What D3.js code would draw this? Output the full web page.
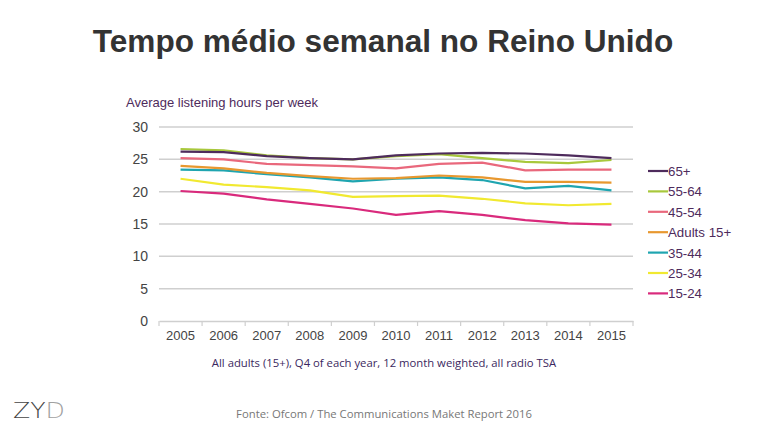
<!DOCTYPE html>
<html><head><meta charset="utf-8">
<script src="https://cdn.jsdelivr.net/npm/d3@7"></script>
<style>body{margin:0;background:#fff}svg{display:block}</style>
</head><body>
<script>
const years = ["2005","2006","2007","2008","2009","2010","2011","2012","2013","2014","2015"];
const seriesNames = ["65+","55-64","45-54","Adults 15+","35-44","25-34","15-24"];
const s65 = [26.2,26.1,25.5,25.2,25.0,25.6,25.9,26.0,25.9,25.6,25.2];
const s55 = [26.6,26.4,25.6,25.2,25.0,25.5,25.8,25.2,24.6,24.4,24.9];
const s45 = [25.2,25.0,24.3,24.1,23.9,23.6,24.3,24.5,23.3,23.4,23.4];
const sAdults = [24.0,23.6,22.9,22.4,22.0,22.1,22.5,22.2,21.5,21.5,21.4];
const s35 = [23.4,23.3,22.7,22.2,21.6,22.0,22.2,21.8,20.5,20.9,20.2];
const s25 = [22.0,21.1,20.7,20.2,19.2,19.3,19.4,18.9,18.2,17.9,18.1];
const s15 = [20.1,19.7,18.8,18.1,17.4,16.4,17.0,16.4,15.6,15.1,14.9];
const yTicks = [0,5,10,15,20,25,30];
const colors = ["#4e2b5c","#a8c83c","#e9687c","#e8982f","#1fa5b0","#f1e930","#d92a7c"];
const seriesValues = [s65,s55,s45,sAdults,s35,s25,s15];

const W=768,H=432;
const svg=d3.select("body").append("svg").attr("width",W).attr("height",H);
const m={left:159,right:633,top:127,bottom:321};
const x=d3.scaleBand().domain(years).range([m.left,m.right]);
const y=d3.scaleLinear().domain([0,30]).range([m.bottom,m.top]);

// title
svg.append("text").attr("x",383).attr("y",52).attr("text-anchor","middle")
 .attr("font-family","Liberation Sans, Arial, sans-serif").attr("font-weight","bold")
 .attr("font-size",31.6).attr("fill","#333").text("Tempo médio semanal no Reino Unido");

// gridlines
svg.append("g").selectAll("line").data(yTicks.filter(d=>d>0)).join("line")
 .attr("x1",m.left).attr("x2",m.right).attr("y1",d=>y(d)).attr("y2",d=>y(d))
 .attr("stroke","#cfcfcf").attr("stroke-width",1.5);

// y axis labels
const ya=svg.append("g").attr("transform",`translate(${m.left},0)`)
 .call(d3.axisLeft(y).tickValues(yTicks).tickSize(0).tickPadding(11));
ya.select(".domain").remove();
ya.selectAll("text").attr("font-family","Liberation Sans, Arial, sans-serif").attr("font-size",14).attr("fill","#444");

// x axis
const xa=svg.append("g").attr("transform",`translate(0,${y(0)})`)
 .call(d3.axisBottom(x).tickSize(0).tickPadding(10));
xa.select(".domain").attr("stroke","#cfcfcf").attr("stroke-width",1.5);
xa.selectAll("text").attr("font-family","Liberation Sans, Arial, sans-serif").attr("font-size",13).attr("fill","#444");
// band boundary ticks
const bounds=years.map(d=>x(d)).concat([x.range()[1]]);
svg.append("g").selectAll("line").data(bounds).join("line")
 .attr("x1",d=>d).attr("x2",d=>d).attr("y1",y(0)).attr("y2",y(0)+5)
 .attr("stroke","#cfcfcf").attr("stroke-width",1.2);

// y title
svg.append("text").attr("x",126).attr("y",107)
 .attr("font-family","Liberation Sans, Arial, sans-serif").attr("font-size",13)
 .attr("fill","#4e2b5c").text("Average listening hours per week");

// lines (draw bottom first so top ones overlay)
const line=d3.line().x((d,i)=>x(years[i])+x.bandwidth()/2).y(d=>y(d)).curve(d3.curveLinear);
const order=[6,5,4,3,2,1,0];
svg.append("g").selectAll("path").data(order).join("path")
 .attr("d",i=>line(seriesValues[i])).attr("fill","none")
 .attr("stroke",i=>colors[i]).attr("stroke-width",2.2).attr("stroke-linejoin","round");

// legend
const lg=svg.append("g");
seriesNames.forEach((n,i)=>{
  const yy=171+i*20.4;
  lg.append("line").attr("x1",648).attr("x2",668).attr("y1",yy).attr("y2",yy)
    .attr("stroke",colors[i]).attr("stroke-width",2.2);
  lg.append("text").attr("x",668).attr("y",yy+5)
    .attr("font-family","Liberation Sans, Arial, sans-serif").attr("font-size",13.3)
    .attr("fill","#4e2b5c").text(n);
});

// footnote
svg.append("text").attr("x",384).attr("y",367).attr("text-anchor","middle")
 .attr("font-family","Open Sans, sans-serif").attr("font-size",11.3)
 .attr("fill","#3b2860").text("All adults (15+), Q4 of each year, 12 month weighted, all radio TSA");

// logo
const logo=svg.append("text").attr("x",13).attr("y",418)
 .attr("font-family","DejaVu Sans, sans-serif").attr("font-weight","200").attr("font-size",21)
 .attr("textLength",52).attr("lengthAdjust","spacingAndGlyphs");
logo.append("tspan").attr("fill","#444").text("ZY");
logo.append("tspan").attr("fill","#a0a0a0").text("D");

// source
svg.append("text").attr("x",384).attr("y",418).attr("text-anchor","middle")
 .attr("font-family","Open Sans, sans-serif").attr("font-size",11.3)
 .attr("fill","#777").text("Fonte: Ofcom / The Communications Maket Report 2016");
</script>
</body></html>
